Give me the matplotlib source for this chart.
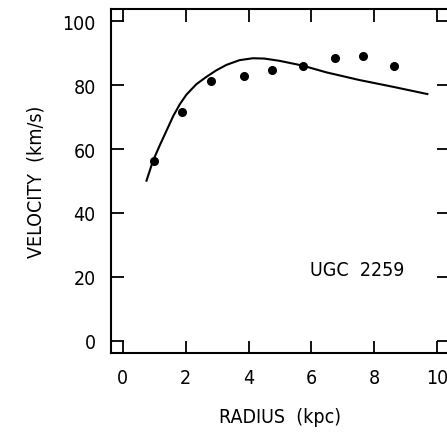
import numpy as np
import matplotlib.pyplot as plt

plt.rcParams['font.family'] = ['DejaVu Sans']
plt.rcParams['font.stretch'] = 'condensed'

# observed rotation velocities
radius_obs = [0.98, 1.89, 2.81, 3.84, 4.76, 5.74, 6.74, 7.63, 8.63]
vel_obs = [56.2, 71.5, 81.2, 83.0, 84.6, 85.9, 88.6, 89.1, 85.9]

# model curve
radius_fit = [0.75, 0.96, 1.17, 1.39, 1.60, 1.81, 2.02, 2.34, 2.66, 2.97, 3.29,
              3.71, 4.14, 4.50, 4.98, 5.72, 6.47, 7.52, 8.58, 9.69]
vel_fit = [50.1, 56.4, 61.1, 65.8, 70.3, 74.0, 77.0, 80.3, 82.6, 84.6, 86.3,
           87.8, 88.4, 88.3, 87.6, 86.1, 84.0, 81.6, 79.5, 77.2]

xticks = [0, 2, 4, 6, 8, 10]
yticks = [0, 20, 40, 60, 80, 100]

fig = plt.figure(figsize=(4.47, 4.39), dpi=100)
ax = fig.add_axes([0.2483, 0.1936, 0.7562, 0.7836])

ax.plot(radius_fit, vel_fit, color='black', lw=1.5)
ax.plot(radius_obs, vel_obs, 'o', color='black', ms=5.5)

ax.set_xlim(-0.38, 10.38)
ax.set_ylim(-3.8, 103.8)
ax.set_xticks(xticks)
ax.set_yticks(yticks)
ax.tick_params(direction='in', length=9, width=1.3, top=True, right=True,
               labelsize=14, pad=11)
for s in ax.spines.values():
    s.set_linewidth(1.5)

ax.text(7.46, 22.3, 'UGC  2259', fontsize=14, ha='center', va='center')
ax.set_xlabel('RADIUS  (kpc)', fontsize=14, labelpad=14)
ax.set_ylabel('VELOCITY  (km/s)', fontsize=14, labelpad=12)

fig.savefig('out.png', dpi=100)
